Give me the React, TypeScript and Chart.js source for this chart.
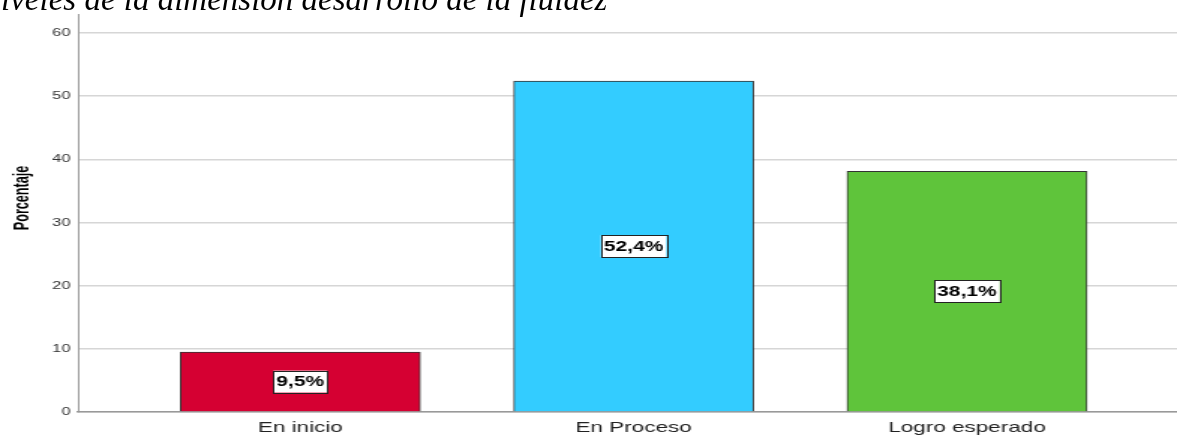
import React, { useEffect, useRef } from 'react';
import { Chart, registerables } from 'chart.js';

Chart.register(...registerables);

const title = 'Niveles de la dimensión desarrollo de la fluidez';
const yAxisTitle = 'Porcentaje';
const categories = ['En inicio', 'En Proceso', 'Logro esperado'];
const percentages = [9.5, 52.4, 38.1];
const barColors = ['#D50032', '#33CCFF', '#5FC43B'];
const yTickValues = [0, 10, 20, 30, 40, 50, 60];

const NATIVE_W = 785;
const H = 438;
const STRETCH = 1177 / NATIVE_W;

const labelPlugin = {
  id: 'spssLabels',
  afterDatasetsDraw(chart: any) {
    const ctx = chart.ctx;
    const meta = chart.getDatasetMeta(0);
    ctx.save();
    ctx.font = 'bold 14px "Liberation Sans", Arial, sans-serif';
    ctx.textAlign = 'center';
    ctx.textBaseline = 'middle';
    meta.data.forEach((el: any, i: number) => {
      const txt = percentages[i].toFixed(1).replace('.', ',') + '%';
      const cy = (el.y + el.base) / 2;
      const cx = el.x;
      const tw = ctx.measureText(txt).width;
      const bw = tw + 4;
      const bh = 22;
      ctx.fillStyle = '#ffffff';
      ctx.fillRect(cx - bw / 2, cy - bh / 2, bw, bh);
      ctx.lineWidth = 1;
      ctx.strokeStyle = '#222';
      ctx.strokeRect(Math.round(cx - bw / 2) + 0.5, Math.round(cy - bh / 2) + 0.5, Math.round(bw), bh);
      ctx.fillStyle = '#000';
      ctx.fillText(txt, cx, cy + 1);
    });
    ctx.restore();
  },
  afterDraw(chart: any) {
    const ctx = chart.ctx;
    ctx.save();
    ctx.translate(15.5, 198);
    ctx.rotate(-Math.PI / 2);
    ctx.scale(0.9, 1);
    ctx.font = 'bold 14px "Liberation Sans Narrow", "Arial Narrow", "Liberation Sans", Arial, sans-serif';
    ctx.fillStyle = '#000';
    ctx.textAlign = 'center';
    ctx.textBaseline = 'middle';
    ctx.fillText(yAxisTitle, 0, 0);
    ctx.restore();
  },
};

export default function App() {
  const canvasRef = useRef<HTMLCanvasElement | null>(null);

  useEffect(() => {
    if (!canvasRef.current) return;
    const chart = new Chart(canvasRef.current, {
      type: 'bar',
      data: {
        datasets: [
          {
            label: yAxisTitle,
            data: percentages.map((v, i) => ({ x: i + 1, y: v })),
            backgroundColor: barColors,
            borderColor: '#333333',
            borderWidth: 1,
            barThickness: 160,
          },
        ],
      },
      options: {
        animation: false,
        responsive: true,
        maintainAspectRatio: false,
        layout: { padding: { top: 14, left: 0, right: 0, bottom: 0 } },
        plugins: {
          legend: { display: false },
          tooltip: { enabled: false },
          title: { display: false },
        },
        scales: {
          x: {
            type: 'linear',
            min: 0.333,
            max: 3.63,
            offset: false,
            grid: { display: false, drawTicks: false, tickLength: 0, offset: false },
            border: { display: true, color: '#999999', width: 1.5 },
            afterBuildTicks: (s: any) => {
              s.ticks = categories.map((_, i) => ({ value: i + 1 }));
            },
            afterFit: (s: any) => {
              s.height = 26;
            },
            ticks: {
              color: '#222',
              padding: 7,
              autoSkip: false,
              maxRotation: 0,
              font: { family: '"Liberation Sans", Arial, sans-serif', size: 15 },
              callback: (v: any) => categories[Number(v) - 1] ?? '',
            },
          },
          y: {
            type: 'linear',
            min: 0,
            max: 63,
            grid: { color: '#d6d6d6', lineWidth: 1.5, drawTicks: false },
            border: { display: true, color: '#999999', width: 1 },
            afterBuildTicks: (s: any) => {
              s.ticks = yTickValues.map((v) => ({ value: v }));
            },
            afterFit: (s: any) => {
              s.width = 52;
            },
            ticks: {
              color: '#333',
              padding: 5,
              font: { family: '"Liberation Sans", Arial, sans-serif', size: 11 },
            },
          },
        },
      },
      plugins: [labelPlugin],
    });
    return () => chart.destroy();
  }, []);

  return (
    <div
      style={{
        position: 'fixed',
        left: 0,
        top: 0,
        width: 1177,
        height: H,
        overflow: 'hidden',
        background: '#fff',
      }}
    >
      <div
        style={{
          position: 'absolute',
          left: 0,
          top: 0,
          width: NATIVE_W,
          height: H,
          transform: `scaleX(${STRETCH})`,
          transformOrigin: '0 0',
        }}
      >
        <canvas ref={canvasRef} style={{ display: 'block' }} />
      </div>
      <div
        style={{
          position: 'absolute',
          left: -21,
          top: -17,
          fontFamily: '"Liberation Serif", "Times New Roman", serif',
          fontStyle: 'italic',
          fontSize: 33,
          lineHeight: '33px',
          whiteSpace: 'nowrap',
          color: '#000',
        }}
      >
        {title}
      </div>
    </div>
  );
}
